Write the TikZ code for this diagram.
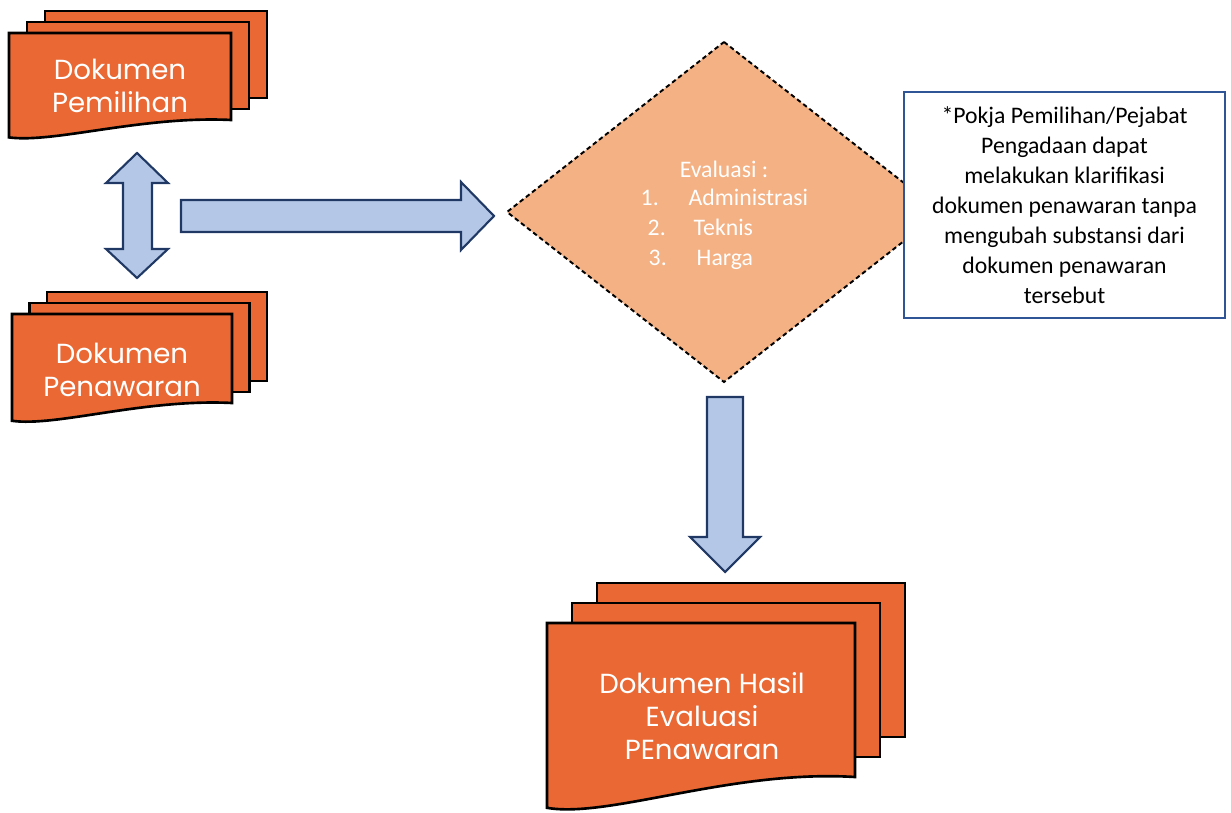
\documentclass[tikz,border=0pt]{standalone}
\usepackage{fontspec}
\newfontfamily\docfont{Poppins}
\newfontfamily\calfont{Carlito}

\definecolor{docorange}{RGB}{233,104,51}
\definecolor{evalfill}{RGB}{244,177,131}
\definecolor{arrowfill}{RGB}{180,199,231}
\definecolor{arrowline}{RGB}{32,56,100}
\definecolor{noteblue}{RGB}{47,85,151}

% stack of three sheets: front corner x y, width, height, shift dx dy
\newcommand{\docstack}[6]{%
  \draw[docsheet] ({#1+2*#5},{#2-2*#6}) rectangle ++(#3,#4);
  \draw[docsheet] ({#1+#5},{#2-#6}) rectangle ++(#3,#4);
  \draw[docsheet] (#1,#2) -- ++(#3,0) -- ++(0,#4)
    .. controls ({#1+0.6*#3},{#2+0.95*#4}) and ({#1+0.2*#3},{#2+1.27*#4}) .. (#1,{#2+1.2*#4}) -- cycle;
}

\begin{document}
\begin{tikzpicture}[x=0.01cm, y=-0.01cm,
    docsheet/.style={fill=docorange, draw=black, line width=0.75pt, line join=miter},
    doclabel/.style={text=white, align=center, font=\docfont\fontsize{7.85}{9.3}\selectfont},
    blockarrow/.style={fill=arrowfill, draw=arrowline, line width=0.6pt},
    evaltext/.style={text=white, inner sep=0pt, font=\calfont\fontsize{6.75}{8.5}\selectfont},
    notebox/.style={draw=noteblue, line width=0.6pt, fill=white, align=center,
      minimum width=3.21cm, minimum height=2.26cm, font=\calfont\fontsize{6.75}{8.5}\selectfont}]
  \useasboundingbox (0,0) rectangle (1231,813);

  % documents
  \docstack{9}{33}{222}{87}{18}{11}
  \node[doclabel] (pemilihan) at (120,86) {Dokumen\\Pemilihan};

  \docstack{12}{314}{220}{89}{17.5}{11}
  \node[doclabel] (penawaran) at (122,370) {Dokumen\\Penawaran};

  \docstack{547}{623}{308}{154}{25}{20}
  \node[doclabel] (hasil) at (702,716) {Dokumen Hasil\\Evaluasi\\PEnawaran};

  % block arrows
  \draw[blockarrow] (137,153) -- (168,183) -- (152,183) -- (152,249) -- (168,249) -- (137,278)
    -- (106,249) -- (123,249) -- (123,183) -- (106,183) -- cycle;
  \draw[blockarrow] (181,200) -- (461,200) -- (461,182) -- (494,216) -- (461,250) -- (461,232)
    -- (181,232) -- cycle;
  \draw[blockarrow] (707,397) -- (743,397) -- (743,537) -- (760,537) -- (725,572) -- (690,537)
    -- (707,537) -- cycle;

  % evaluation step
  \draw[fill=evalfill, draw=black, line width=0.55pt, dash pattern=on 1.3pt off 0.9pt]
    (724,42) -- (941,212) -- (724,382) -- (507,212) -- cycle;
  \node[evaltext, anchor=base] (evaltitle) at (724,178) {Evaluasi :};
  \node[evaltext, anchor=base west] (num1) at (640,206) {1.};
  \node[evaltext, anchor=base west] (item1) at (688,206) {Administrasi};
  \node[evaltext, anchor=base west] (num2) at (647,236) {2.};
  \node[evaltext, anchor=base west] (item2) at (693,236) {Teknis};
  \node[evaltext, anchor=base west] (num3) at (648,266) {3.};
  \node[evaltext, anchor=base west] (item3) at (696,266) {Harga};

  \node[notebox] (note) at (1064.5,205) {*Pokja Pemilihan/Pejabat\\Pengadaan dapat\\melakukan klarifikasi\\dokumen penawaran tanpa\\mengubah substansi dari\\dokumen penawaran\\tersebut};
\end{tikzpicture}
\end{document}
